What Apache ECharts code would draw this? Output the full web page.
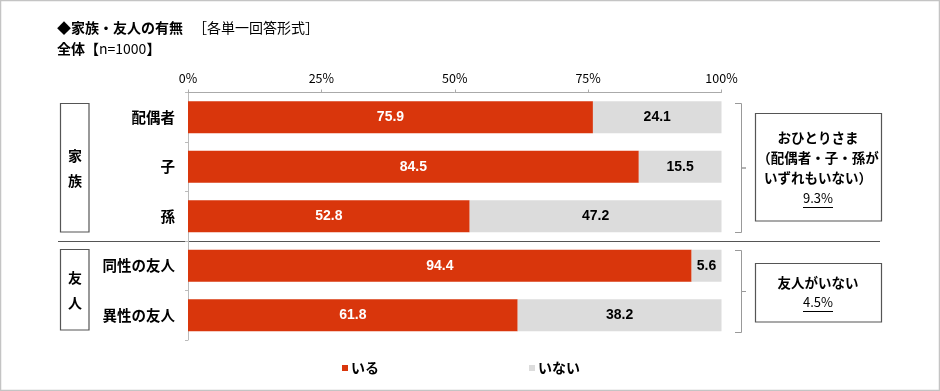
<!DOCTYPE html>
<html><head><meta charset="utf-8">
<script src="https://cdn.jsdelivr.net/npm/echarts@6/dist/echarts.min.js"></script>
<style>html,body{margin:0;padding:0;background:#fff}#c{width:940px;height:391px}</style>
</head><body><div id="c"></div>
<script>
const categories = ['配偶者', '子', '孫', '同性の友人', '異性の友人'];
const seriesNames = ['いる', 'いない'];
const valuesIru = [75.9, 84.5, 52.8, 94.4, 61.8];
const valuesInai = [24.1, 15.5, 47.2, 5.6, 38.2];
const xTicks = [0, 25, 50, 75, 100];
const groupLabels = ['家族', '友人'];
const noteFamily = ['おひとりさま', '（配偶者・子・孫が', 'いずれもいない）'];
const noteFamilyValue = '9.3%';
const noteFriends = ['友人がいない'];
const noteFriendsValue = '4.5%';
const titleMain = '◆家族・友人の有無';
const titleSub = '［各単一回答形式］';
const baseLabel = '全体';
const baseN = 'n=1000';

const FONT = '"Noto Sans CJK JP", "Noto Sans", sans-serif';
const RED = '#D9360C';
const GRAY = '#DCDCDC';

const chart = echarts.init(document.getElementById('c'), null, {renderer: 'canvas'});

function txt(x, y, s, opt) {
  return Object.assign({type: 'text', x: x, y: y, style: Object.assign({
    text: s, font: 'bold 13.5px ' + FONT, fill: '#000', align: 'center', verticalAlign: 'middle'
  }, opt || {})});
}

const graphics = [
  {type: 'rect', shape: {x: 0.5, y: 0.5, width: 939, height: 390}, style: {fill: 'none', stroke: '#c4c4c4', lineWidth: 1.5}, silent: true},
  txt(57, 27.5, titleMain, {align: 'left', font: 'bold 14px ' + FONT}),
  txt(193, 27.5, titleSub, {align: 'left', font: '14px ' + FONT}),
  {type: 'text', x: 57, y: 48.5, style: {
    text: '{b|' + baseLabel + '【}{r|' + baseN + '}{b|】}',
    verticalAlign: 'middle', align: 'left',
    rich: {b: {fontFamily: FONT, fontWeight: 'bold', fontSize: 14, fill: '#000'}, r: {fontFamily: FONT, fontSize: 14, fill: '#000'}}
  }},
  {type: 'line', shape: {x1: 58, y1: 241.5, x2: 880, y2: 241.5}, style: {stroke: '#555', lineWidth: 1}},
  {type: 'rect', shape: {x: 60.5, y: 103.5, width: 28.5, height: 128.5}, style: {fill: 'none', stroke: '#555', lineWidth: 1.2}},
  txt(75, 156, groupLabels[0][0], {font: 'bold 14px ' + FONT}),
  txt(75, 181, groupLabels[0][1], {font: 'bold 14px ' + FONT}),
  {type: 'rect', shape: {x: 60.5, y: 249.5, width: 28.5, height: 80.5}, style: {fill: 'none', stroke: '#555', lineWidth: 1.2}},
  txt(75, 278, groupLabels[1][0], {font: 'bold 14px ' + FONT}),
  txt(75, 303, groupLabels[1][1], {font: 'bold 14px ' + FONT}),
  {type: 'polyline', shape: {points: [[735, 103.5], [741.5, 103.5], [741.5, 168], [746, 168], [741.5, 168], [741.5, 232.5], [735, 232.5]]}, style: {fill: 'none', stroke: '#999', lineWidth: 1}},
  {type: 'polyline', shape: {points: [[735, 250.5], [741.5, 250.5], [741.5, 291.5], [746, 291.5], [741.5, 291.5], [741.5, 332.5], [735, 332.5]]}, style: {fill: 'none', stroke: '#999', lineWidth: 1}},
  {type: 'rect', shape: {x: 755.5, y: 113.5, width: 126, height: 107.5}, style: {fill: '#fff', stroke: '#555', lineWidth: 1.2}},
  txt(818, 138, noteFamily[0]),
  txt(818, 158, noteFamily[1]),
  txt(818, 178, noteFamily[2]),
  txt(818, 198, noteFamilyValue, {font: '13px ' + FONT}),
  {type: 'line', shape: {x1: 803, y1: 207.5, x2: 833, y2: 207.5}, style: {stroke: '#000', lineWidth: 1}},
  {type: 'rect', shape: {x: 755.5, y: 263.5, width: 126, height: 58.5}, style: {fill: '#fff', stroke: '#555', lineWidth: 1.2}},
  txt(818, 283, noteFriends[0]),
  txt(818, 302, noteFriendsValue, {font: '13px ' + FONT}),
  {type: 'line', shape: {x1: 803, y1: 311.5, x2: 833, y2: 311.5}, style: {stroke: '#000', lineWidth: 1}}
];

const option = {
  animation: false,
  textStyle: {fontFamily: FONT},
  grid: {left: 188, right: 218.5, top: 92.5, bottom: 51},
  legend: {
    data: seriesNames, left: 337, top: 356, itemWidth: 6, itemHeight: 6, itemGap: 150,
    icon: 'rect', textStyle: {fontFamily: FONT, fontWeight: 'bold', fontSize: 14, color: '#000', padding: [0, 0, 0, -2]}
  },
  xAxis: {
    type: 'value', position: 'top', min: xTicks[0], max: xTicks[xTicks.length - 1], interval: xTicks[1] - xTicks[0],
    axisLine: {show: true, lineStyle: {color: '#aaa'}},
    axisTick: {show: true, length: 3, lineStyle: {color: '#aaa'}},
    splitLine: {show: false},
    axisLabel: {formatter: v => v + '%', color: '#000', fontSize: 12.5, margin: 8, fontFamily: FONT}
  },
  yAxis: {
    type: 'category', data: categories, inverse: true,
    axisLine: {show: true, lineStyle: {color: '#bbb'}},
    axisTick: {show: true, length: 3, lineStyle: {color: '#bbb'}},
    axisLabel: {color: '#000', fontSize: 14.5, fontWeight: 'bold', margin: 13, fontFamily: FONT}
  },
  series: [
    {name: seriesNames[0], type: 'bar', stack: 's', data: valuesIru, barWidth: 32, itemStyle: {color: RED},
     label: {show: true, position: 'inside', color: '#fff', fontWeight: 'bold', fontSize: 14, fontFamily: 'Arial, "Liberation Sans", sans-serif', formatter: p => p.value.toFixed(1)}},
    {name: seriesNames[1], type: 'bar', stack: 's', data: valuesInai, barWidth: 32, itemStyle: {color: GRAY},
     label: {show: true, position: 'inside', color: '#000', fontWeight: 'bold', fontSize: 14, fontFamily: 'Arial, "Liberation Sans", sans-serif', formatter: p => p.value.toFixed(1)}}
  ],
  graphic: graphics
};
chart.setOption(option);
</script></body></html>
